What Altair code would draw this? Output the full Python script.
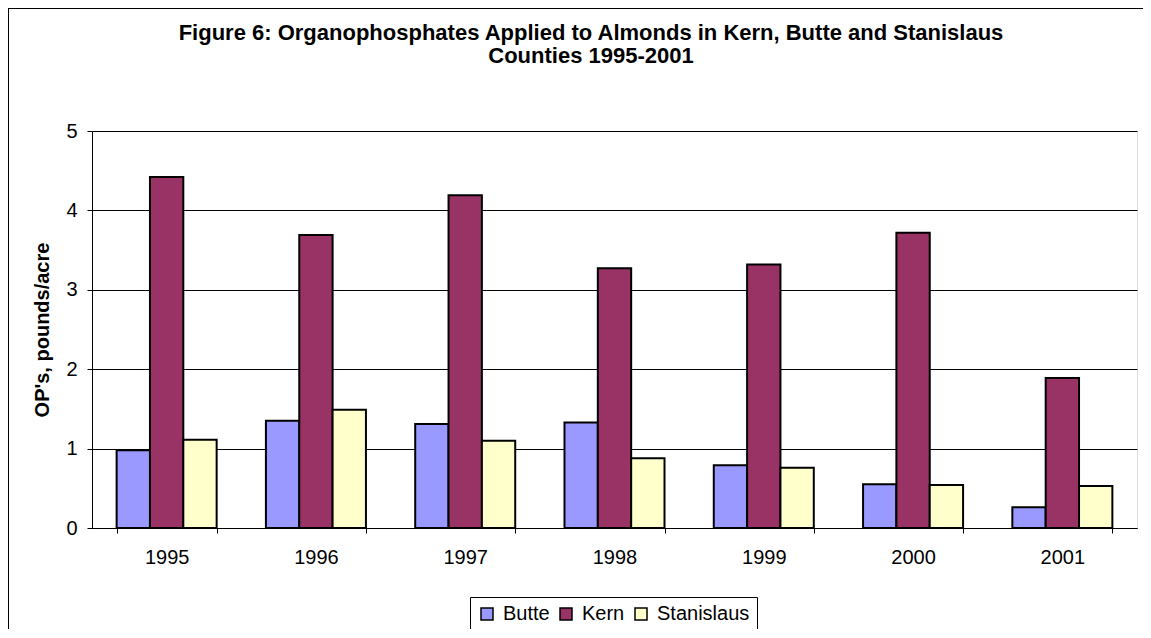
import altair as alt
import pandas as pd

years = ["1995", "1996", "1997", "1998", "1999", "2000", "2001"]
counties = ["Butte", "Kern", "Stanislaus"]
butte = [0.98, 1.35, 1.31, 1.33, 0.79, 0.55, 0.26]
kern = [4.42, 3.69, 4.19, 3.27, 3.32, 3.72, 1.89]
stanislaus = [1.11, 1.49, 1.10, 0.88, 0.76, 0.54, 0.53]
colors = ["#9999FF", "#993366", "#FFFFCC"]
title_lines = [
    "Figure 6: Organophosphates Applied to Almonds in Kern, Butte and Stanislaus",
    "Counties 1995-2001",
]
y_title = "OP's, pounds/acre"
y_ticks = [0, 1, 2, 3, 4, 5]

rows = []
for i, yr in enumerate(years):
    for c, vals in zip(counties, [butte, kern, stanislaus]):
        rows.append({"year": yr, "county": c, "value": vals[i]})
df = pd.DataFrame(rows)

FONT = "Liberation Sans, Arial, sans-serif"

bars = alt.Chart(df).mark_bar(stroke="black", strokeWidth=2).encode(
    x=alt.X(
        "year:N",
        sort=years,
        scale=alt.Scale(paddingInner=0.33, paddingOuter=0.165),
        axis=alt.Axis(
            title=None, labelAngle=0, labelFontSize=20, labelPadding=14,
            tickSize=5, tickBand="extent", domainColor="black", tickColor="black",
            labelColor="black", grid=False, labelFont=FONT,
        ),
    ),
    xOffset=alt.XOffset("county:N", sort=counties),
    y=alt.Y(
        "value:Q",
        scale=alt.Scale(domain=[0, 5], nice=False),
        axis=alt.Axis(
            values=y_ticks, title=y_title, labelFontSize=20, labelPadding=10,
            tickSize=5, domainColor="black", tickColor="black", labelColor="black",
            gridColor="black", gridWidth=1, titleFontSize=20, titleFontWeight="bold",
            titleColor="black", titlePadding=13, labelFont=FONT, titleFont=FONT,
        ),
    ),
    color=alt.Color(
        "county:N",
        sort=counties,
        scale=alt.Scale(domain=counties, range=colors),
        legend=alt.Legend(
            title=None, orient="none", legendX=378, legendY=466, direction="horizontal",
            symbolType="square", symbolSize=144, symbolStrokeColor="black",
            symbolStrokeWidth=1.5, symbolOpacity=1, labelFontSize=20, labelFont=FONT,
            labelColor="black", strokeColor="black", fillColor="white", padding=7,
            columnPadding=6, labelOffset=6,
        ),
    ),
)

one = pd.DataFrame({"k": [0]})
frame_top = alt.Chart(one).mark_rule(color="black", strokeWidth=1).encode(
    x=alt.value(-84), x2=alt.value(1100), y=alt.value(-122.5)
)
frame_left = alt.Chart(one).mark_rule(color="black", strokeWidth=1).encode(
    x=alt.value(-83.5), y=alt.value(-123), y2=alt.value(520)
)

title_df = pd.DataFrame({"t": ["\n".join(title_lines)]})
title = alt.Chart(title_df).mark_text(
    font=FONT, fontSize=22, fontWeight="bold", color="black", align="center",
    baseline="alphabetic", lineBreak="\n", lineHeight=23,
).encode(text="t:N", x=alt.value(499), y=alt.value(-91))

chart = alt.layer(frame_top, frame_left, title, bars).properties(
    width=1045,
    height=397,
    autosize="none",
    padding={"left": 84, "top": 123, "right": 6, "bottom": 101},
).configure_view(stroke="#808080", strokeWidth=2).configure(background="white")

chart.save("out.html", embed_options={"renderer": "svg", "actions": False})
